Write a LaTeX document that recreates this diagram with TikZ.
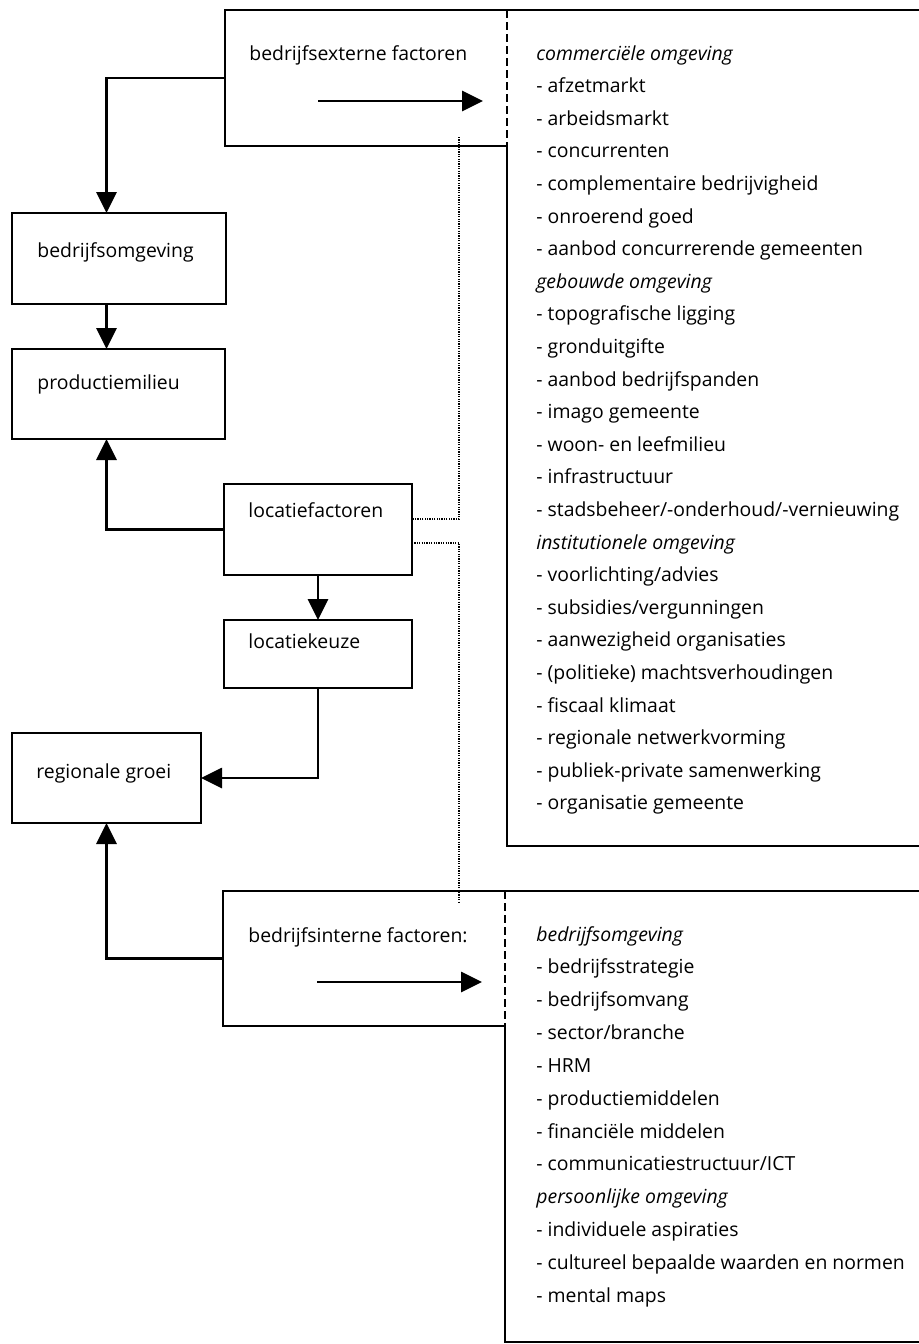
\documentclass[tikz,border=0pt]{standalone}
\usepackage{fontspec}
\setmainfont{Open Sans}
\usetikzlibrary{arrows.meta}
\begin{document}
\begin{tikzpicture}[x=0.5pt,y=-0.5pt,
  box/.style={draw, line width=1.1pt, inner sep=0pt, outer sep=0pt, anchor=north west},
  area/.style={inner sep=0pt, outer sep=0pt, anchor=north west},
  lbl/.style={anchor=base west, inner sep=0pt, font=\fontsize{9.7pt}{12pt}\selectfont},
  arr/.style={line width=1.4pt, -{Triangle[length=10.5pt,width=10pt]}},
  edgeline/.style={line width=1.1pt},
  sepline/.style={line width=1.1pt, dash pattern=on 4pt off 2pt},
  dotline/.style={line width=1.2pt, dash pattern=on 0.6pt off 0.6pt}]
\useasboundingbox (0,0) rectangle (919,1344);
% boxes
\node[box, minimum width=107pt, minimum height=45.5pt] (bo) at (12,213) {};
\node[box, minimum width=106.5pt, minimum height=45pt] (pm) at (12,349) {};
\node[box, minimum width=94pt, minimum height=45.5pt] (lf) at (224,484) {};
\node[box, minimum width=94pt, minimum height=34pt] (lk) at (224,620) {};
\node[box, minimum width=94.5pt, minimum height=45pt] (rg) at (12,733) {};
\node[area, minimum width=141pt, minimum height=68pt] (ext) at (225,10) {};
\node[area, minimum width=141pt, minimum height=67.5pt] (int) at (223,891) {};
% outlines of the two factor blocks
\draw[edgeline] (919,10) -- (ext.north west) -- (ext.south west) -- (ext.south east) -- (507,846) -- (919,846);
\draw[sepline] (ext.north east) -- (ext.south east);
\draw[edgeline] (919,891) -- (int.north west) -- (int.south west) -- (int.south east) -- (505,1342) -- (919,1342);
\draw[sepline] (int.north east) -- (int.south east);
% labels
\node[lbl] (extt) at (249,60) {bedrijfsexterne factoren};
\node[lbl] (intt) at (248,942) {bedrijfsinterne factoren:};
\node[lbl] (bot) at (37,257) {bedrijfsomgeving};
\node[lbl] (pmt) at (37,389) {productiemilieu};
\node[lbl] (lft) at (248,517) {locatiefactoren};
\node[lbl] (lkt) at (248,648) {locatiekeuze};
\node[lbl] (rgt) at (36,778) {regionale groei};
% lists
\foreach \t [count=\i] in {{\textit{commerciële omgeving}},{- afzetmarkt},{- arbeidsmarkt},{- concurrenten},{- complementaire bedrijvigheid},{- onroerend goed},{- aanbod concurrerende gemeenten},{\textit{gebouwde omgeving}},{- topografische ligging},{- gronduitgifte},{- aanbod bedrijfspanden},{- imago gemeente},{- woon- en leefmilieu},{- infrastructuur},{- stadsbeheer/-onderhoud/-vernieuwing},{\textit{institutionele omgeving}},{- voorlichting/advies},{- subsidies/vergunningen},{- aanwezigheid organisaties},{- (politieke) machtsverhoudingen},{- fiscaal klimaat},{- regionale netwerkvorming},{- publiek-private samenwerking},{- organisatie gemeente}}
  \node[lbl] (e\i) at (536,{60+32.6*(\i-1)}) {\t};
\foreach \t [count=\i] in {{\textit{bedrijfsomgeving}},{- bedrijfsstrategie},{- bedrijfsomvang},{- sector/branche},{- HRM},{- productiemiddelen},{- financiële middelen},{- communicatiestructuur/ICT},{\textit{persoonlijke omgeving}},{- individuele aspiraties},{- cultureel bepaalde waarden en normen},{- mental maps}}
  \node[lbl] (n\i) at (536,{941+32.85*(\i-1)}) {\t};
% inner arrows
\coordinate (ea1) at (318,101);
\coordinate (ea2) at (483,101);
\coordinate (ia1) at (317,982);
\coordinate (ia2) at (482,982);
\draw[arr] (ea1) -- (ea2);
\draw[arr] (ia1) -- (ia2);
% connectors
\draw[arr] (ext.west) -| (bo.north -| rg.north);
\draw[arr] (bo.south -| rg.north) -- (pm.north -| rg.north);
\draw[arr] (lf.west) -| (pm.south -| rg.north);
\draw[arr] (lf.south) -- (lk.north);
\draw[arr] (lk.south) |- (rg.east);
\draw[arr] (int.west) -| (rg.south);
% dotted links
\coordinate (d1) at (459,137);
\coordinate (d2) at (459,903);
\draw[dotline] (d1) |- ([yshift=5.25pt]lf.east);
\draw[dotline] ([yshift=-6.75pt]lf.east) -| (d2);
\end{tikzpicture}
\end{document}
